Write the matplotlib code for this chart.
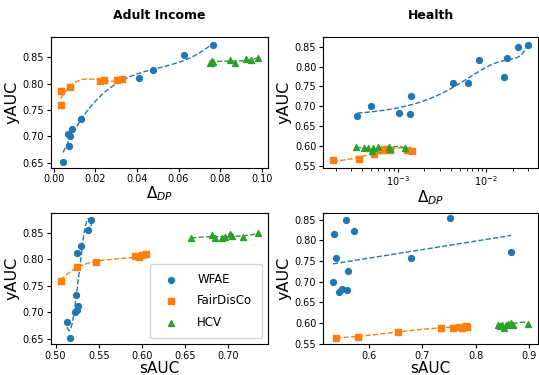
import matplotlib
matplotlib.use("Agg")
import matplotlib.pyplot as plt
from matplotlib.ticker import MultipleLocator
import numpy as np

c_wfae = "#1f77b4"
c_fdc = "#ff7f0e"
c_hcv = "#2ca02c"

# Adult Income
adult_wfae_y = [0.652, 0.705, 0.701, 0.682, 0.713, 0.733, 0.811, 0.825, 0.854, 0.874]
adult_wfae_dp = [0.0044, 0.0068, 0.0078, 0.0074, 0.0086, 0.0131, 0.0410, 0.0475, 0.0625, 0.0768]
adult_wfae_sauc = [0.5166, 0.5244, 0.5220, 0.5135, 0.5260, 0.5236, 0.5250, 0.5290, 0.5380, 0.5414]

adult_fdc_y = [0.760, 0.786, 0.794, 0.805, 0.807, 0.806, 0.809]
adult_fdc_dp = [0.0032, 0.0036, 0.0078, 0.0221, 0.0242, 0.0302, 0.0328]
adult_fdc_sauc = [0.5058, 0.5244, 0.5464, 0.5960, 0.6000, 0.5920, 0.6050]

adult_hcv_y = [0.840, 0.842, 0.841, 0.845, 0.839, 0.847, 0.844, 0.849, 0.840]
adult_hcv_dp = [0.0755, 0.0762, 0.0768, 0.0850, 0.0872, 0.0927, 0.0948, 0.0982, 0.0750]
adult_hcv_sauc = [0.657, 0.696, 0.717, 0.681, 0.684, 0.702, 0.704, 0.734, 0.693]

# Health
health_wfae_y = [0.675, 0.700, 0.683, 0.680, 0.726, 0.7575, 0.758, 0.816, 0.773, 0.8225, 0.850, 0.853]
health_wfae_dp = [3.5e-4, 4.93e-4, 1.04e-3, 1.39e-3, 1.41e-3, 4.23e-3, 6.18e-3, 8.28e-3, 1.61e-2, 1.74e-2, 2.31e-2, 2.99e-2]
health_wfae_sauc = [0.545, 0.533, 0.550, 0.560, 0.5616, 0.539, 0.678, 0.534, 0.866, 0.572, 0.558, 0.751]

health_fdc_y = [0.564, 0.5665, 0.579, 0.589, 0.5935, 0.5905, 0.589, 0.5905, 0.5875]
health_fdc_dp = [1.86e-4, 3.65e-4, 5.33e-4, 6.5e-4, 7.0e-4, 8.2e-4, 6.8e-4, 1.26e-3, 1.45e-3]
health_fdc_sauc = [0.539, 0.580, 0.654, 0.735, 0.782, 0.784, 0.758, 0.768, 0.774]

health_hcv_y = [0.598, 0.594, 0.594, 0.5875, 0.594, 0.5965, 0.599, 0.593, 0.595]
health_hcv_dp = [3.41e-4, 4.17e-4, 4.6e-4, 5.15e-4, 5.3e-4, 6.06e-4, 8.07e-4, 8.1e-4, 1.2e-3]
health_hcv_sauc = [0.898, 0.842, 0.848, 0.852, 0.856, 0.861, 0.866, 0.845, 0.870]


def plot_series(ax, x, y, color, marker, label, deg=3):
    x = np.asarray(x)
    y = np.asarray(y)
    ax.scatter(x, y, s=18, color=color, marker=marker, label=label, zorder=3)
    coef = np.polyfit(x, y, deg)
    xs = np.linspace(x.min(), x.max(), 300)
    ax.plot(xs, np.polyval(coef, xs), "--", color=color, linewidth=1, zorder=2)


W, H = 539, 375
fig = plt.figure(figsize=(W / 100, H / 100), dpi=100)
ax_tl = fig.add_axes([50.7 / W, 1 - 167.5 / H, 217 / W, 130.8 / H])
ax_tr = fig.add_axes([323.3 / W, 1 - 167.5 / H, 214.7 / W, 130.8 / H])
ax_bl = fig.add_axes([50.7 / W, 1 - 344 / H, 217 / W, 131.5 / H])
ax_br = fig.add_axes([323.3 / W, 1 - 344 / H, 214.7 / W, 131.5 / H])

plot_series(ax_tl, adult_wfae_dp, adult_wfae_y, c_wfae, "o", "WFAE")
plot_series(ax_tl, adult_fdc_dp, adult_fdc_y, c_fdc, "s", "FairDisCo")
plot_series(ax_tl, adult_hcv_dp, adult_hcv_y, c_hcv, "^", "HCV")

plot_series(ax_tr, health_wfae_dp, health_wfae_y, c_wfae, "o", "WFAE")
plot_series(ax_tr, health_fdc_dp, health_fdc_y, c_fdc, "s", "FairDisCo")
plot_series(ax_tr, health_hcv_dp, health_hcv_y, c_hcv, "^", "HCV")
ax_tr.set_xscale("log")

plot_series(ax_bl, adult_wfae_sauc, adult_wfae_y, c_wfae, "o", "WFAE")
plot_series(ax_bl, adult_fdc_sauc, adult_fdc_y, c_fdc, "s", "FairDisCo")
plot_series(ax_bl, adult_hcv_sauc, adult_hcv_y, c_hcv, "^", "HCV")

plot_series(ax_br, health_wfae_sauc, health_wfae_y, c_wfae, "o", "WFAE", deg=1)
plot_series(ax_br, health_fdc_sauc, health_fdc_y, c_fdc, "s", "FairDisCo")
plot_series(ax_br, health_hcv_sauc, health_hcv_y, c_hcv, "^", "HCV")

ax_tl.set_title("Adult Income", fontsize=9, fontweight="bold", pad=13)
ax_tr.set_title("Health", fontsize=9, fontweight="bold", pad=13)

for ax in [ax_tl, ax_tr]:
    ax.set_xlabel(r"$\Delta_{DP}$", fontsize=11, labelpad=0)
for ax in [ax_bl, ax_br]:
    ax.set_xlabel("sAUC", fontsize=11, labelpad=0)
for ax in [ax_tl, ax_tr, ax_bl, ax_br]:
    ax.set_ylabel("yAUC", fontsize=11.5, labelpad=2)
    ax.tick_params(labelsize=7, length=3, pad=2)
    ax.yaxis.set_major_locator(MultipleLocator(0.05))
    ax.yaxis.set_major_formatter("{x:.2f}")

ax_bl.legend(loc="lower right", fontsize=8.5, markerscale=1.0, handletextpad=1.2,
             borderpad=0.8, labelspacing=0.7)

plt.savefig("out.png", dpi=100)
